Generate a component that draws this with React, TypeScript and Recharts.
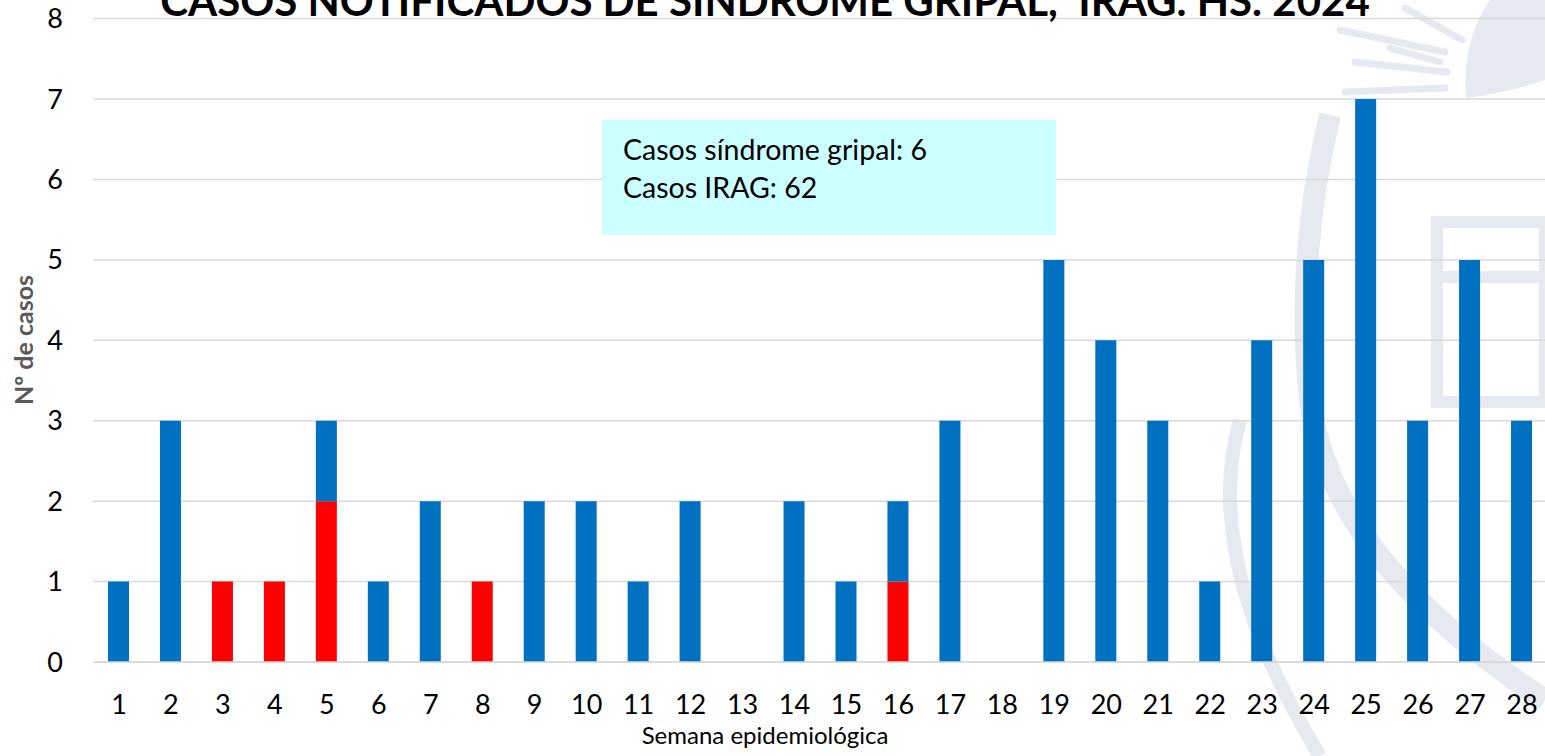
import React from "react";
import { BarChart, Bar, XAxis, YAxis, CartesianGrid } from "recharts";

const weeks = ["1","2","3","4","5","6","7","8","9","10","11","12","13","14","15","16","17","18","19","20","21","22","23","24","25","26","27","28"];
const sindromeGripal = [0,0,1,1,2,0,0,1,0,0,0,0,0,0,0,1,0,0,0,0,0,0,0,0,0,0,0,0];
const irag = [1,3,0,0,1,1,2,0,2,2,1,2,0,2,1,1,3,0,5,4,3,1,4,5,7,3,5,3];
const yTicks = [0,1,2,3,4,5,6,7,8];

const data = weeks.map((w, i) => ({ week: w, sg: sindromeGripal[i], irag: irag[i] }));

const FONT = "Lato, 'Open Sans', sans-serif";
const WM = "#e6e9f0";

export default function App() {
  return (
    <div style={{ position: "absolute", left: 0, top: 0, width: 1545, height: 756, overflow: "hidden", background: "#fff", fontFamily: FONT }}>
      <svg width={1545} height={756} style={{ position: "absolute", left: 0, top: 0 }}>
        <path d="M1545 0 L1490 0 Q1462 40 1466 98 Q1510 92 1545 80 Z" fill={WM} />
        <path d="M1330 115 Q1295 260 1310 400 Q1330 560 1545 700" fill="none" stroke={WM} strokeWidth={22} />
        <path d="M1240 420 Q1200 560 1320 756" fill="none" stroke={WM} strokeWidth={14} />
        <g stroke={WM} strokeWidth={7} strokeLinecap="round">
          <line x1={1340} y1={30} x2={1445} y2={52} />
          <line x1={1355} y1={62} x2={1447} y2={72} />
          <line x1={1345} y1={92} x2={1445} y2={88} />
          <line x1={1405} y1={8} x2={1462} y2={40} />
          <line x1={1390} y1={48} x2={1440} y2={62} />
        </g>
        <rect x={1437} y={222} width={108} height={55} fill="none" stroke={WM} strokeWidth={12} />
        <rect x={1437} y={277} width={108} height={125} fill="none" stroke={WM} strokeWidth={12} />
      </svg>
      <BarChart width={1548} height={756} data={data} margin={{ top: 18.6, right: 0, bottom: 44, left: 0 }} barSize={21}
        style={{ position: "absolute", left: 0, top: 0 }}>
        <CartesianGrid vertical={false} stroke="#d9d9d9" strokeWidth={1.5} />
        <XAxis dataKey="week" axisLine={{ stroke: "#d9d9d9", strokeWidth: 1.5 }} tickLine={false} height={50} tickMargin={27}
          tick={{ fill: "#000", fontSize: 27, fontFamily: FONT }} interval={0} />
        <YAxis domain={[0, 8]} ticks={yTicks} width={93} axisLine={false} tickLine={false} tickMargin={24}
          tick={{ fill: "#000", fontSize: 27, fontFamily: FONT }} />
        <Bar dataKey="sg" stackId="a" fill="#ff0000" isAnimationActive={false} />
        <Bar dataKey="irag" stackId="a" fill="#0070c0" isAnimationActive={false} />
      </BarChart>
      <div style={{ position: "absolute", left: 602, top: 120, width: 454, height: 115, background: "#ccffff" }} />
      <svg width={1545} height={756} style={{ position: "absolute", left: 0, top: 0, pointerEvents: "none" }}>
        <text x={765} y={16} textAnchor="middle" fontSize={42} fontWeight={700} fill="#000" fontFamily={FONT}>
          {"CASOS NOTIFICADOS DE SÍNDROME GRIPAL,\u00a0 IRAG. HS. 2024"}
        </text>
        <text x={623} y={160} fontSize={28.5} fill="#000" fontFamily={FONT}>Casos síndrome gripal: 6</text>
        <text x={623} y={198} fontSize={28.5} fill="#000" fontFamily={FONT}>Casos IRAG: 62</text>
        <text x={33} y={340} transform="rotate(-90 33 340)" textAnchor="middle" fontSize={25} fontWeight={700} fill="#595959" fontFamily={FONT}>
          Nº de casos
        </text>
        <text x={765} y={744} textAnchor="middle" fontSize={24} fill="#000" fontFamily={FONT}>Semana epidemiológica</text>
      </svg>
    </div>
  );
}
